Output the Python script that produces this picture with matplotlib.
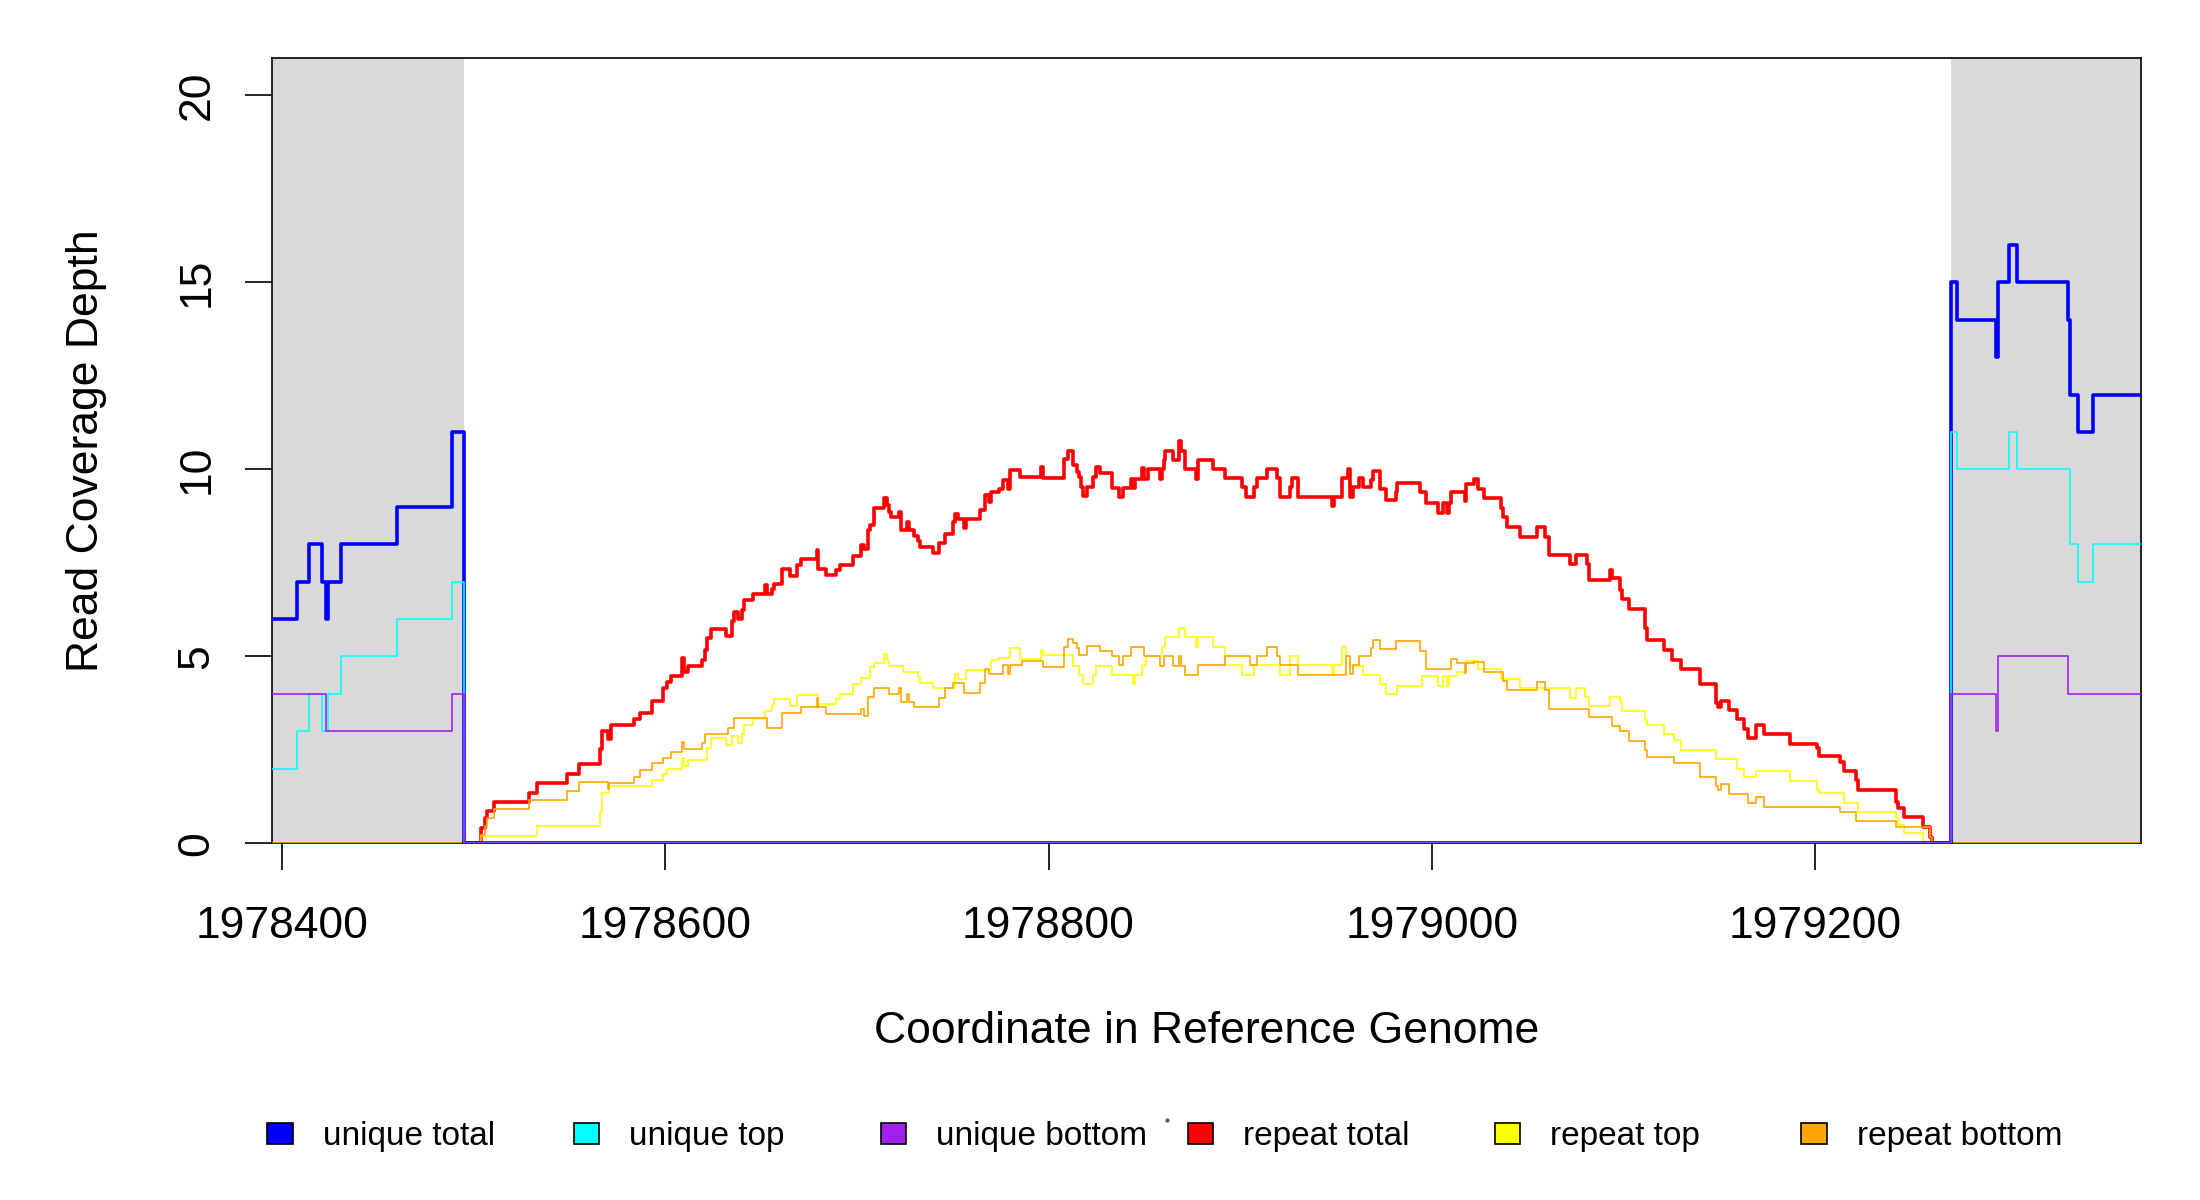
import matplotlib
matplotlib.use("Agg")
from matplotlib import pyplot as plt
from matplotlib.patches import Rectangle
from matplotlib.lines import Line2D

plt.rcParams['font.family'] = ['Liberation Sans', 'DejaVu Sans']

# flanking windows (grey) and plotted range
x_min, x_max = 1978394.8, 1979370.1
flank_left = (1978394, 1978495)
flank_right = (1979271, 1979371)

# uniquely mapped reads (step starts, value)
uniq_total_x = [1978394, 1978408, 1978414, 1978421, 1978423, 1978424, 1978431, 1978460,
                1978489, 1978495, 1979271, 1979274, 1979294, 1979295, 1979301, 1979305,
                1979332, 1979333, 1979337, 1979345, 1979371]
uniq_total_y = [6, 7, 8, 7, 6, 7, 8, 9, 11, 0, 15, 14, 13, 15, 16, 15, 14, 12, 11, 12, 12]

uniq_top_x = [1978394, 1978408, 1978414, 1978421, 1978424, 1978431, 1978460, 1978489,
              1978495, 1979271, 1979274, 1979301, 1979305, 1979333, 1979337, 1979345, 1979371]
uniq_top_y = [2, 3, 4, 3, 4, 5, 6, 7, 0, 11, 10, 11, 10, 8, 7, 8, 8]

uniq_bot_x = [1978394, 1978423, 1978489, 1978495, 1979271, 1979294, 1979295, 1979332, 1979371]
uniq_bot_y = [4, 3, 4, 0, 4, 3, 5, 4, 4]

# multi-mapped (repeat) reads
rep_total_x = [1978495, 1978504, 1978506, 1978507, 1978511, 1978529, 1978533, 1978549, 1978555,
               1978566, 1978567, 1978570, 1978572, 1978584, 1978587, 1978593, 1978599, 1978601,
               1978603, 1978609, 1978610, 1978612, 1978619, 1978621, 1978622, 1978624, 1978632,
               1978635, 1978636, 1978638, 1978640, 1978641, 1978646, 1978652, 1978653, 1978656,
               1978657, 1978661, 1978665, 1978669, 1978671, 1978679, 1978680, 1978684, 1978689,
               1978691, 1978698, 1978702, 1978704, 1978706, 1978707, 1978709, 1978714, 1978716,
               1978717, 1978718, 1978722, 1978723, 1978726, 1978727, 1978730, 1978732, 1978733,
               1978740, 1978743, 1978746, 1978750, 1978751, 1978753, 1978756, 1978757, 1978764,
               1978767, 1978769, 1978770, 1978774, 1978776, 1978779, 1978780, 1978785, 1978796,
               1978797, 1978808, 1978810, 1978813, 1978815, 1978816, 1978817, 1978818, 1978820,
               1978823, 1978825, 1978827, 1978833, 1978837, 1978839, 1978843, 1978844, 1978845,
               1978849, 1978850, 1978852, 1978858, 1978859, 1978860, 1978861, 1978865, 1978868,
               1978869, 1978871, 1978877, 1978878, 1978886, 1978892, 1978901, 1978903, 1978907,
               1978909, 1978914, 1978919, 1978921, 1978926, 1978927, 1978930, 1978948, 1978949,
               1978953, 1978956, 1978957, 1978959, 1978962, 1978964, 1978968, 1978969, 1978973,
               1978976, 1978981, 1978982, 1978994, 1978997, 1979003, 1979006, 1979008, 1979009,
               1979010, 1979017, 1979018, 1979022, 1979024, 1979027, 1979036, 1979037, 1979039,
               1979046, 1979055, 1979059, 1979061, 1979072, 1979075, 1979081, 1979082, 1979093,
               1979094, 1979098, 1979099, 1979103, 1979111, 1979112, 1979121, 1979125, 1979130,
               1979140, 1979148, 1979149, 1979151, 1979155, 1979159, 1979163, 1979165, 1979169,
               1979173, 1979187, 1979201, 1979202, 1979213, 1979215, 1979221, 1979222, 1979242,
               1979243, 1979246, 1979256, 1979260, 1979261, 1979271]
rep_total_y = [0, 0.40, 0.67, 0.86, 1.11, 1.35, 1.60, 1.85, 2.11,
               2.51, 3.00, 2.80, 3.15, 3.32, 3.48, 3.81, 4.14, 4.30,
               4.47, 4.96, 4.57, 4.74, 4.90, 5.17, 5.48, 5.73, 5.55,
               5.94, 6.19, 6.00, 6.24, 6.50, 6.66, 6.90, 6.66, 6.80,
               6.93, 7.34, 7.16, 7.44, 7.59, 7.84, 7.34, 7.17, 7.31,
               7.45, 7.68, 7.97, 7.86, 8.38, 8.51, 8.97, 9.22, 9.05,
               8.87, 8.73, 8.87, 8.38, 8.60, 8.38, 8.22, 8.07, 7.91,
               7.77, 8.02, 8.27, 8.60, 8.80, 8.66, 8.42, 8.66, 8.91,
               9.31, 9.13, 9.40, 9.46, 9.71, 9.46, 9.98, 9.80, 10.05,
               9.76, 10.27, 10.50, 10.12, 9.94, 9.80, 9.54, 9.29, 9.54,
               9.80, 10.05, 9.90, 9.49, 9.27, 9.49, 9.73, 9.49, 9.73,
               10.03, 9.73, 10.00, 9.73, 10.00, 10.25, 10.50, 10.25, 10.77,
               10.50, 10.00, 9.73, 10.25, 10.00, 9.76, 9.52, 9.27, 9.52,
               9.76, 10.00, 9.76, 9.27, 9.52, 9.76, 9.27, 9.02, 9.27,
               9.76, 10.00, 9.27, 9.52, 9.76, 9.52, 9.71, 9.96, 9.47,
               9.18, 9.40, 9.63, 9.38, 9.10, 8.84, 9.10, 8.84, 9.10,
               9.38, 9.14, 9.60, 9.73, 9.46, 9.22, 8.96, 8.72, 8.45,
               8.20, 8.45, 8.20, 7.71, 7.46, 7.71, 7.46, 7.04, 7.30,
               7.09, 6.77, 6.52, 6.27, 5.75, 5.44, 5.17, 4.90, 4.65,
               4.25, 3.74, 3.65, 3.81, 3.57, 3.32, 3.06, 2.81, 3.15,
               2.92, 2.66, 2.54, 2.34, 2.18, 1.93, 1.69, 1.43, 1.11,
               0.94, 0.69, 0.43, 0.18, 0, 0]

rep_top_x = [1978495, 1978504, 1978533, 1978566, 1978567, 1978571, 1978593, 1978599, 1978601,
             1978609, 1978610, 1978612, 1978622, 1978624, 1978632, 1978635, 1978638, 1978640,
             1978641, 1978646, 1978652, 1978656, 1978657, 1978665, 1978669, 1978680, 1978689,
             1978691, 1978698, 1978702, 1978707, 1978709, 1978714, 1978716, 1978717, 1978724,
             1978732, 1978733, 1978740, 1978751, 1978753, 1978757, 1978770, 1978774, 1978780,
             1978785, 1978796, 1978797, 1978813, 1978816, 1978818, 1978823, 1978825, 1978833,
             1978844, 1978845, 1978849, 1978851, 1978859, 1978861, 1978868, 1978871, 1978877,
             1978878, 1978886, 1978892, 1978901, 1978907, 1978921, 1978926, 1978930, 1978948,
             1978949, 1978953, 1978955, 1978957, 1978964, 1978973, 1978976, 1978982, 1978995,
             1979003, 1979006, 1979008, 1979009, 1979013, 1979018, 1979024, 1979036, 1979046,
             1979072, 1979075, 1979080, 1979082, 1979093, 1979098, 1979099, 1979111, 1979112,
             1979121, 1979126, 1979130, 1979148, 1979159, 1979163, 1979169, 1979187, 1979201,
             1979202, 1979215, 1979222, 1979242, 1979243, 1979246, 1979256, 1979271]
rep_top_y = [0, 0.20, 0.45, 0.85, 1.35, 1.52, 1.69, 1.84, 2.00,
             2.27, 2.07, 2.23, 2.54, 2.81, 2.63, 2.87, 2.67, 2.92,
             3.16, 3.32, 3.55, 3.70, 3.85, 3.68, 3.97, 3.72, 3.85,
             3.99, 4.25, 4.41, 4.72, 4.81, 5.05, 4.90, 4.75, 4.59,
             4.44, 4.28, 4.14, 4.52, 4.38, 4.63, 4.90, 4.96, 5.21,
             4.93, 5.17, 5.04, 4.74, 4.50, 4.25, 4.50, 4.74, 4.50,
             4.25, 4.50, 4.77, 5.00, 5.26, 5.51, 5.75, 5.51, 5.26,
             5.51, 5.26, 4.77, 4.50, 4.77, 4.50, 5.00, 4.77, 4.50,
             4.77, 5.26, 5.00, 4.74, 4.50, 4.26, 4.00, 4.20, 4.46,
             4.20, 4.46, 4.20, 4.46, 4.59, 4.88, 4.65, 4.38, 4.14,
             3.88, 4.14, 3.90, 3.68, 3.92, 3.79, 3.55, 3.30, 3.15,
             2.91, 2.75, 2.50, 2.26, 2.00, 1.76, 1.92, 1.67, 1.43,
             1.34, 1.09, 0.85, 0.67, 0.49, 0.27, 0, 0]

rep_bot_x = [1978394, 1978504, 1978506, 1978507, 1978511, 1978529, 1978549, 1978555, 1978570,
             1978571, 1978584, 1978587, 1978593, 1978599, 1978603, 1978609, 1978610, 1978619,
             1978621, 1978633, 1978636, 1978653, 1978661, 1978671, 1978679, 1978680, 1978684,
             1978702, 1978704, 1978706, 1978709, 1978717, 1978722, 1978723, 1978726, 1978727,
             1978730, 1978743, 1978746, 1978750, 1978756, 1978764, 1978767, 1978769, 1978776,
             1978779, 1978780, 1978786, 1978797, 1978808, 1978810, 1978813, 1978815, 1978816,
             1978820, 1978827, 1978833, 1978837, 1978839, 1978843, 1978850, 1978858, 1978860,
             1978865, 1978868, 1978869, 1978871, 1978878, 1978892, 1978905, 1978909, 1978914,
             1978919, 1978921, 1978930, 1978955, 1978957, 1978959, 1978962, 1978968, 1978969,
             1978973, 1978981, 1978994, 1978997, 1979010, 1979013, 1979017, 1979018, 1979022,
             1979027, 1979037, 1979039, 1979055, 1979059, 1979061, 1979082, 1979094, 1979098,
             1979103, 1979111, 1979112, 1979126, 1979140, 1979148, 1979149, 1979151, 1979155,
             1979165, 1979169, 1979173, 1979213, 1979221, 1979242, 1979260, 1979261, 1979371]
rep_bot_y = [0, 0.22, 0.45, 0.67, 0.91, 1.16, 1.41, 1.65, 1.44,
             1.62, 1.78, 1.96, 2.14, 2.29, 2.45, 2.70, 2.51, 2.67,
             2.92, 3.07, 3.34, 3.09, 3.49, 3.64, 3.88, 3.64, 3.46,
             3.58, 3.40, 3.90, 4.16, 4.00, 4.14, 3.79, 4.00, 3.79,
             3.64, 3.88, 4.14, 4.28, 4.03, 4.28, 4.65, 4.52, 4.77,
             4.52, 4.77, 4.88, 4.72, 5.24, 5.46, 5.35, 5.21, 5.04,
             5.28, 5.15, 5.00, 4.77, 5.00, 5.26, 5.00, 4.74, 5.00,
             4.75, 5.02, 4.75, 4.50, 4.77, 5.00, 4.77, 5.00, 5.24,
             5.00, 4.77, 4.50, 5.00, 4.53, 4.78, 5.02, 5.21, 5.44,
             5.20, 5.41, 5.15, 4.65, 4.92, 4.81, 4.56, 4.81, 4.86,
             4.59, 4.34, 4.10, 4.32, 4.10, 3.58, 3.39, 3.14, 2.99,
             2.74, 2.50, 2.30, 2.16, 1.76, 1.53, 1.43, 1.58, 1.32,
             1.07, 1.23, 0.98, 0.85, 0.60, 0.43, 0.18, 0, 0]

labels = ['unique total', 'unique top', 'unique bottom', 'repeat total', 'repeat top', 'repeat bottom']
colors = ['#0000FF', '#00FFFF', '#A020F0', '#FF0000', '#FFFF00', '#FFA500']

fig = plt.figure(figsize=(11, 6), dpi=200)
ax = fig.add_axes([0.1235, 0.29725, 0.9734 - 0.1235, 0.95175 - 0.29725])

ax.axvspan(*flank_left, color='#D9D9D9', lw=0, zorder=0)
ax.axvspan(*flank_right, color='#D9D9D9', lw=0, zorder=0)

thick, thin = 1.3, 0.6
ax.step(rep_total_x, rep_total_y, where='post', color=colors[3], lw=thick, zorder=3)
ax.step(rep_top_x, rep_top_y, where='post', color=colors[4], lw=thin, zorder=3)
ax.step(rep_bot_x, rep_bot_y, where='post', color=colors[5], lw=thin, zorder=3)
ax.step(uniq_total_x, uniq_total_y, where='post', color=colors[0], lw=thick, zorder=3)
ax.step(uniq_top_x, uniq_top_y, where='post', color=colors[1], lw=thin, zorder=3)
ax.step(uniq_bot_x, uniq_bot_y, where='post', color=colors[2], lw=thin, zorder=3)

ax.set_xlim(x_min, x_max)
ax.set_ylim(0, 21)
ax.set_xticks([1978400, 1978600, 1978800, 1979000, 1979200])
ax.set_xticklabels(['1978400', '1978600', '1978800', '1979000', '1979200'])
ax.set_yticks([0, 5, 10, 15, 20])
for s in ax.spines.values():
    s.set_linewidth(0.6)
ax.tick_params(axis='both', direction='out', length=9.6, width=0.6, labelsize=16)
ax.tick_params(axis='x', pad=13)
ax.tick_params(axis='y', pad=10, labelrotation=90)
for t in ax.get_yticklabels():
    t.set_va('center')

fig.text(0.5485, 1 - 1031.4 / 1200, 'Coordinate in Reference Genome', fontsize=16,
         ha='center', va='center')
fig.text(0.0394, 0.6245, 'Read Coverage Depth', fontsize=16, rotation=90,
         ha='center', va='center')

# legend row along the bottom
W, H = 2200.0, 1200.0
for i, (lab, col) in enumerate(zip(labels, colors)):
    cx = 280 + i * 306.8
    fig.add_artist(Rectangle(((cx - 12.7) / W, 1 - 1144 / H), 25.4 / W, 21.3 / H,
                             transform=fig.transFigure, facecolor=col,
                             edgecolor='black', lw=0.6))
    fig.text((cx + 42.6) / W, 1 - 1145 / H, lab, fontsize=12, ha='left', va='baseline')
fig.add_artist(Line2D([1166.7 / W], [1 - 1120 / H], marker='o', markersize=0.5,
                      color='#555555', transform=fig.transFigure))

fig.savefig('out.png', dpi=200)
